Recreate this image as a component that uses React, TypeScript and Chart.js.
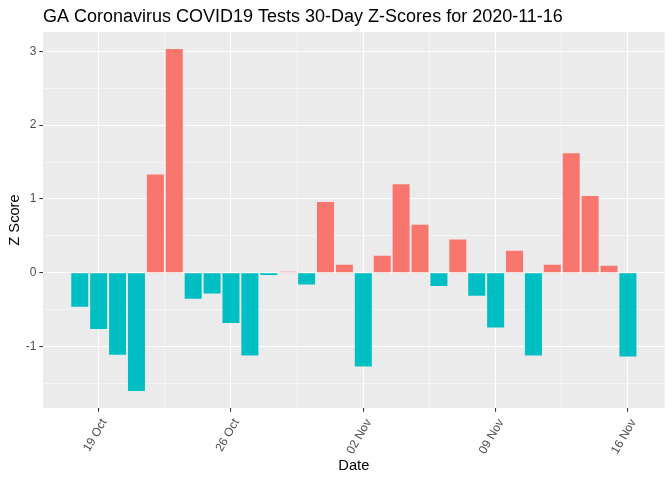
import React, { useEffect, useRef } from "react";
import { Chart, registerables } from "chart.js";

Chart.register(...registerables);

const chartTitle = "GA Coronavirus COVID19 Tests 30-Day Z-Scores for 2020-11-16";
const xAxisTitle = "Date";
const yAxisTitle = "Z Score";

const categories = [
  "2020-10-18", "2020-10-19", "2020-10-20", "2020-10-21", "2020-10-22",
  "2020-10-23", "2020-10-24", "2020-10-25", "2020-10-26", "2020-10-27",
  "2020-10-28", "2020-10-29", "2020-10-30", "2020-10-31", "2020-11-01",
  "2020-11-02", "2020-11-03", "2020-11-04", "2020-11-05", "2020-11-06",
  "2020-11-07", "2020-11-08", "2020-11-09", "2020-11-10", "2020-11-11",
  "2020-11-12", "2020-11-13", "2020-11-14", "2020-11-15", "2020-11-16",
];

const zScores = [
  -0.46, -0.76, -1.11, -1.6, 1.33,
  3.03, -0.35, -0.28, -0.68, -1.12,
  -0.03, 0.015, -0.16, 0.96, 0.11,
  -1.27, 0.23, 1.2, 0.65, -0.18,
  0.45, -0.31, -0.74, 0.3, -1.12,
  0.11, 1.62, 1.04, 0.095, -1.135,
];

const xTickDates = ["2020-10-19", "2020-10-26", "2020-11-02", "2020-11-09", "2020-11-16"];
const xTickLabels = ["19 Oct", "26 Oct", "02 Nov", "09 Nov", "16 Nov"];
const yTickValues = [-1, 0, 1, 2, 3];
const yMinorValues = [-1.5, -0.5, 0.5, 1.5, 2.5];

const POS_COLOR = "#F8766D";
const NEG_COLOR = "#00BFC4";
const FONT = "'Liberation Sans', Arial, sans-serif";

export default function App() {
  const canvasRef = useRef<HTMLCanvasElement | null>(null);

  useEffect(() => {
    const canvas = canvasRef.current;
    if (!canvas) return;

    const xMajor = xTickDates.map((d) => categories.indexOf(d));
    const xMinor: number[] = [];
    for (let i = 0; i < xMajor.length - 1; i++) xMinor.push((xMajor[i] + xMajor[i + 1]) / 2);

    const barHalf = 0.45;
    const xLo = -barHalf;
    const xHi = categories.length - 1 + barHalf;
    const xPad = (xHi - xLo) * 0.05;
    const yLoData = Math.min(0, ...zScores);
    const yHiData = Math.max(0, ...zScores);
    const yPad = (yHiData - yLoData) * 0.05;

    const panelBg = {
      id: "panelBg",
      beforeDraw(chart: any) {
        const { ctx, chartArea: a } = chart;
        ctx.save();
        ctx.fillStyle = "#EBEBEB";
        ctx.fillRect(a.left, a.top, a.right - a.left, a.bottom - a.top);
        ctx.restore();
      },
    };

    const ggTitle = {
      id: "ggTitle",
      afterDraw(chart: any) {
        const { ctx, chartArea: a } = chart;
        ctx.save();
        ctx.font = `18px ${FONT}`;
        ctx.fillStyle = "#000000";
        ctx.textAlign = "left";
        ctx.textBaseline = "alphabetic";
        ctx.fillText(chartTitle, a.left, 22.3);
        ctx.restore();
      },
    };

    const isXMajor = (v: number) => xMajor.some((m) => Math.abs(m - v) < 1e-6);
    const isYMajor = (v: number) => yTickValues.some((m) => Math.abs(m - v) < 1e-6);

    const chart = new Chart(canvas, {
      type: "bar",
      data: {
        datasets: [
          {
            data: zScores.map((v, i) => ({ x: i, y: v })),
            backgroundColor: zScores.map((v) => (v >= 0 ? POS_COLOR : NEG_COLOR)),
            borderWidth: 0,
            barPercentage: 0.9,
            categoryPercentage: 1,
          },
        ],
      },
      options: {
        animation: false,
        responsive: false,
        devicePixelRatio: 1,
        layout: { padding: { left: 0, right: 7.3, top: 32, bottom: 0 } },
        plugins: {
          legend: { display: false },
          tooltip: { enabled: false },
          title: { display: false },
        },
        scales: {
          x: {
            type: "linear",
            offset: false,
            min: xLo - xPad,
            max: xHi + xPad,
            afterBuildTicks(scale: any) {
              const vals = [...xMajor, ...xMinor].sort((a, b) => a - b);
              scale.ticks = vals.map((v) => ({ value: v }));
            },
            afterFit(scale: any) {
              scale.height = 72;
            },
            border: { display: false },
            grid: {
              offset: false,
              color: "#FFFFFF",
              lineWidth: (c: any) => (isXMajor(c.tick?.value) ? 1.07 : 0.53),
              drawTicks: true,
              tickLength: 3.67,
              tickWidth: 1.07,
              tickColor: (c: any) => (isXMajor(c.tick?.value) ? "#333333" : "rgba(0,0,0,0)"),
            },
            ticks: {
              autoSkip: false,
              minRotation: 60,
              maxRotation: 60,
              padding: 4.8,
              labelOffset: 5.5,
              color: "#4D4D4D",
              font: { family: FONT, size: 12 },
              callback: (v: any) => {
                const idx = xMajor.findIndex((m) => Math.abs(m - Number(v)) < 1e-6);
                return idx >= 0 ? xTickLabels[idx] : "";
              },
            },
            title: {
              display: true,
              text: xAxisTitle,
              color: "#000000",
              font: { family: FONT, size: 14.67 },
              padding: { top: 0, bottom: 5.3 },
            },
          },
          y: {
            type: "linear",
            min: yLoData - yPad,
            max: yHiData + yPad,
            afterBuildTicks(scale: any) {
              const vals = [...yTickValues, ...yMinorValues].sort((a, b) => a - b);
              scale.ticks = vals.map((v) => ({ value: v }));
            },
            afterFit(scale: any) {
              scale.width = 43;
            },
            border: { display: false },
            grid: {
              color: "#FFFFFF",
              lineWidth: (c: any) => (isYMajor(c.tick?.value) ? 1.07 : 0.53),
              drawTicks: true,
              tickLength: 3.67,
              tickWidth: 1.07,
              tickColor: (c: any) => (isYMajor(c.tick?.value) ? "#333333" : "rgba(0,0,0,0)"),
            },
            ticks: {
              autoSkip: false,
              padding: 2.93,
              color: "#4D4D4D",
              font: { family: FONT, size: 12 },
              callback: (v: any) => (isYMajor(Number(v)) ? String(Math.round(Number(v))) : ""),
            },
            title: {
              display: true,
              text: yAxisTitle,
              color: "#000000",
              font: { family: FONT, size: 14.67 },
              padding: { top: 6.1, bottom: 0 },
            },
          },
        },
      },
      plugins: [panelBg, ggTitle],
    });

    return () => chart.destroy();
  }, []);

  return (
    <div style={{ position: "absolute", left: 0, top: 0, width: 672, height: 480, background: "#FFFFFF" }}>
      <canvas ref={canvasRef} width={672} height={480} style={{ display: "block", width: 672, height: 480 }} />
    </div>
  );
}
